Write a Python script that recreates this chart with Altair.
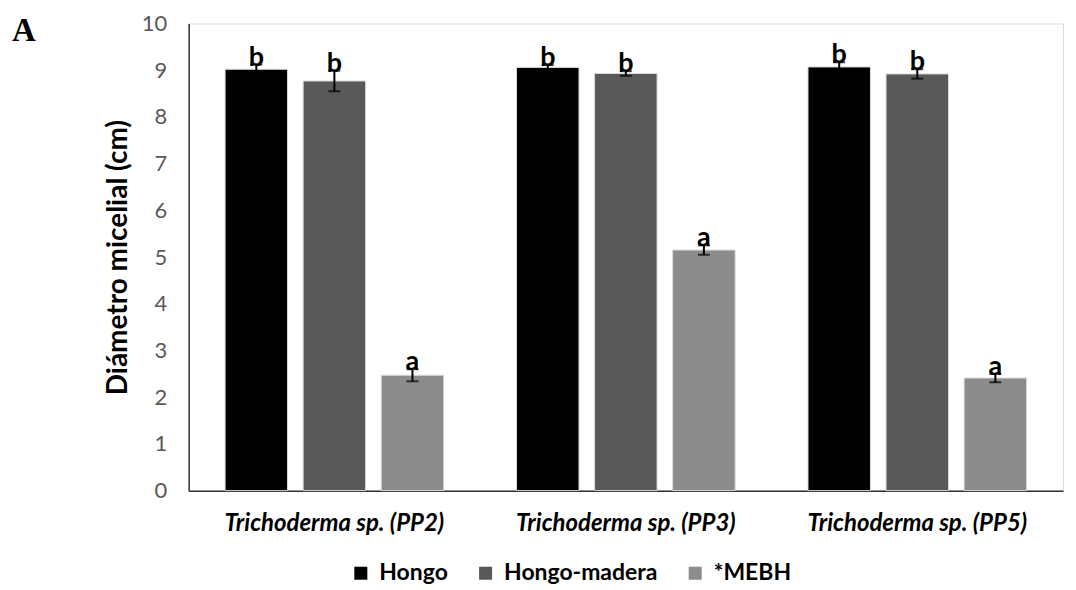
import altair as alt
import pandas as pd

categories = ["Trichoderma sp. (PP2)", "Trichoderma sp. (PP3)", "Trichoderma sp. (PP5)"]
series = ["Hongo", "Hongo-madera", "*MEBH"]
hongo = [9.02, 9.06, 9.07]
hongo_madera = [8.77, 8.93, 8.92]
mebh = [2.47, 5.15, 2.41]
err_hongo = [0.10, 0.05, 0.10]
err_hongo_madera = [0.22, 0.05, 0.10]
err_mebh = [0.13, 0.10, 0.09]
letters_hongo = ["b", "b", "b"]
letters_hongo_madera = ["b", "b", "b"]
letters_mebh = ["a", "a", "a"]
colors = ["#000000", "#595959", "#8c8c8c"]
y_ticks = list(range(0, 11))

rows = []
for s, vals, errs, lets in [
    (series[0], hongo, err_hongo, letters_hongo),
    (series[1], hongo_madera, err_hongo_madera, letters_hongo_madera),
    (series[2], mebh, err_mebh, letters_mebh),
]:
    for c, v, e, l in zip(categories, vals, errs, lets):
        rows.append({"cat": c, "serie": s, "val": v, "lo": v - e, "hi": v + e, "let": l})
df = pd.DataFrame(rows)

FONT = "Lato"

x_enc = alt.X("cat:N", sort=categories,
              scale=alt.Scale(paddingInner=0.25, paddingOuter=0.125),
              axis=alt.Axis(title=None, labelFont=FONT, labelFontSize=24, labelFontStyle="italic",
                            labelFontWeight="bold", labelColor="#000000", labelPadding=21,
                            labelLimit=0, ticks=False, domainColor="#303030", domainWidth=1.5,
                            labelAngle=0))
xo_enc = alt.XOffset("serie:N", sort=series, scale=alt.Scale(paddingInner=0.2, paddingOuter=0))

base = alt.Chart(df)

bars = base.mark_bar(stroke="#d9d9d9", strokeWidth=1).encode(
    x=x_enc,
    xOffset=xo_enc,
    y=alt.Y("val:Q", scale=alt.Scale(domain=[0, 10], nice=False),
            axis=alt.Axis(title="Diámetro micelial (cm)", values=y_ticks, grid=False, ticks=False,
                          labelFont=FONT, labelFontSize=22, labelColor="#595959", labelPadding=22,
                          titleFont=FONT, titleFontSize=28, titleFontWeight="bold", titleColor="#000000",
                          titlePadding=9, domainColor="#303030", domainWidth=1.5)),
    color=alt.Color("serie:N", sort=series, scale=alt.Scale(domain=series, range=colors),
                    legend=alt.Legend(title=None, orient="none", direction="horizontal",
                                      legendX=161, legendY=539, symbolType="square", symbolSize=170,
                                      symbolStrokeWidth=0, labelFont=FONT, labelFontSize=23,
                                      labelFontWeight="bold", labelColor="#000000", columnPadding=26,
                                      labelOffset=7, labelLimit=0)),
)

rules = base.mark_rule(color="#000000", strokeWidth=2).encode(
    x=alt.X("cat:N", sort=categories), xOffset=xo_enc, y="lo:Q", y2="hi:Q")
caps_lo = base.mark_tick(color="#000000", thickness=2, size=12).encode(
    x=alt.X("cat:N", sort=categories), xOffset=xo_enc, y="lo:Q")
caps_hi = base.mark_tick(color="#000000", thickness=2, size=12).encode(
    x=alt.X("cat:N", sort=categories), xOffset=xo_enc, y="hi:Q")
labels = base.mark_text(font=FONT, fontSize=27, fontWeight="bold", color="#000000",
                        baseline="alphabetic", dy=1).encode(
    x=alt.X("cat:N", sort=categories), xOffset=xo_enc, y="hi:Q", text="let:N")

panel_letter = alt.Chart(pd.DataFrame({"t": ["A"]})).mark_text(
    font="Liberation Serif", fontSize=33, fontWeight="bold", align="left", baseline="alphabetic",
    color="#000000").encode(x=alt.value(-177), y=alt.value(18), text="t:N")

chart = alt.layer(bars, rules, caps_lo, caps_hi, labels, panel_letter).properties(
    width=876, height=468,
    autosize=alt.AutoSizeParams(type="none"),
    padding={"left": 181, "top": 15, "right": 5, "bottom": 96},
).configure_view(stroke=None).configure(background="#ffffff")

chart.save("out.html", embed_options={"renderer": "svg", "actions": False})
